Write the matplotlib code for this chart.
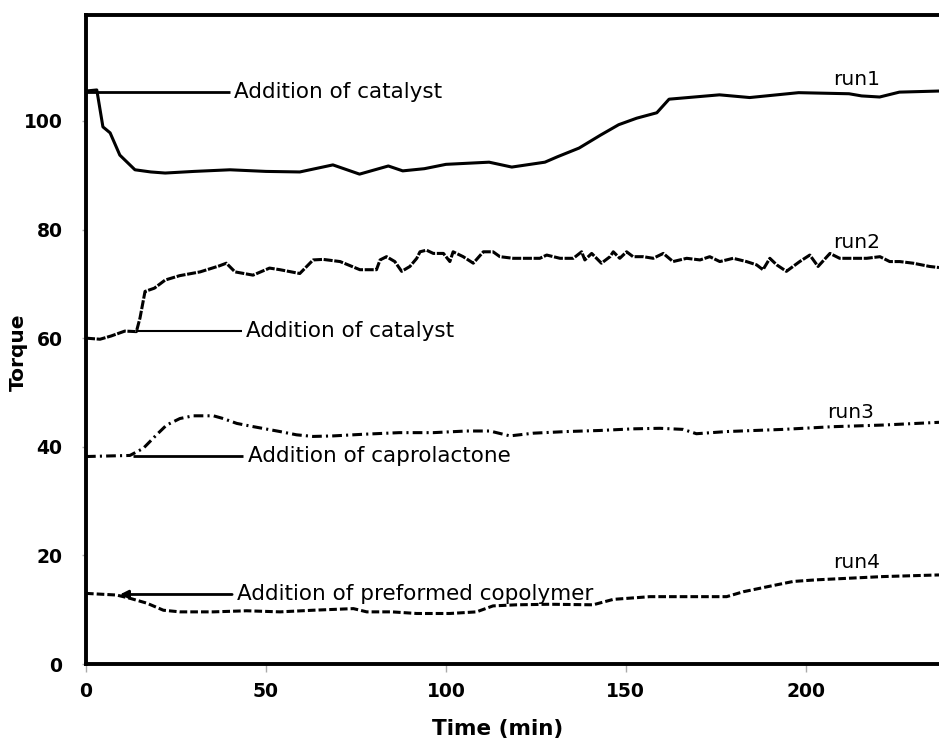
import matplotlib
matplotlib.use("Agg")
import matplotlib.pyplot as plt

plt.rcParams['lines.scale_dashes'] = False
plt.rcParams['font.family'] = ['DejaVu Sans']

# ---- data ----
run1 = [(0, 105.5), (3, 105.7), (4.7, 98.9), (6.7, 97.8), (9.4, 93.7), (13.6, 91.0),
        (18, 90.6), (22, 90.4), (30, 90.7), (40, 91.0), (50, 90.7), (59.4, 90.6),
        (68.6, 91.9), (76, 90.2), (84, 91.7), (88, 90.8), (94, 91.2), (100, 92.0),
        (112, 92.4), (118.3, 91.5), (127.5, 92.4), (131, 93.4), (137, 95.0), (143, 97.4),
        (148, 99.3), (153, 100.5), (158.6, 101.5), (162, 104.0), (176, 104.8),
        (184.4, 104.3), (198, 105.2), (212, 105.0), (215.5, 104.6), (220.5, 104.4),
        (226, 105.3), (237, 105.5)]

run2 = [(0, 60.0), (3.9, 59.8), (7, 60.4), (10.8, 61.3), (14, 61.2), (15, 63.7),
        (16.4, 68.6), (19, 69.2), (22, 70.7), (26, 71.5), (31.7, 72.2), (37, 73.3),
        (39, 73.8), (41.4, 72.2), (46.4, 71.6), (51, 72.9), (53.9, 72.6), (59.4, 71.9),
        (63.1, 74.4), (65.9, 74.5), (70.6, 74.1), (76.1, 72.6), (80.7, 72.6), (81.7, 74.4),
        (83.5, 75.0), (85.8, 74.1), (87.7, 72.3), (90, 73.2), (91.9, 74.7), (92.8, 75.9),
        (94.6, 76.2), (96.5, 75.6), (99.3, 75.6), (101.1, 74.1), (102, 75.9), (104.8, 75.0),
        (107.6, 73.8), (110.4, 75.9), (113.1, 75.9), (115, 75.0), (118.7, 74.7),
        (122.4, 74.7), (126.1, 74.7), (128, 75.3), (131.7, 74.7), (135.4, 74.7),
        (137.7, 75.9), (138.6, 74.4), (140.5, 75.6), (143.2, 73.8), (145.6, 75.0),
        (146.5, 75.9), (148.3, 74.7), (150.2, 75.9), (152, 75.0), (154.8, 75.0),
        (157.6, 74.7), (160.4, 75.6), (163.1, 74.1), (166.9, 74.7), (170.6, 74.4),
        (173.3, 75.0), (176.1, 74.1), (179.8, 74.7), (183.5, 74.1), (186.3, 73.5),
        (188.1, 72.6), (190, 74.7), (191.9, 73.5), (194.6, 72.3), (198.3, 74.1),
        (201.1, 75.3), (203.4, 73.2), (206.7, 75.6), (209.4, 74.7), (213.1, 74.7),
        (216.9, 74.7), (220.6, 75.0), (223.3, 74.1), (226.1, 74.1), (229.8, 73.8),
        (234.4, 73.2), (237, 73.0)]

run3 = [(0, 38.2), (6, 38.3), (12.2, 38.4), (15.9, 39.7), (19.6, 42.2), (22.4, 44.0),
        (26.1, 45.2), (29.8, 45.7), (35.4, 45.7), (38.1, 45.2), (41.9, 44.3), (46.5, 43.7),
        (53.9, 42.8), (58.5, 42.2), (63.1, 41.9), (68.7, 42.0), (77, 42.3), (87, 42.6),
        (96.5, 42.6), (105.7, 42.9), (112.2, 42.9), (117.8, 42.0), (124.3, 42.5),
        (133.5, 42.8), (142.8, 43.0), (152, 43.3), (159.4, 43.4), (165.9, 43.2),
        (169.6, 42.4), (178, 42.8), (193.7, 43.2), (207.6, 43.7), (221.5, 44.0), (237, 44.5)]

run4 = [(0, 13.0), (8.5, 12.7), (12.2, 12.1), (16.9, 11.2), (21.5, 9.9), (26.1, 9.6),
        (35.4, 9.6), (44.6, 9.8), (53.9, 9.6), (63.1, 9.9), (70.6, 10.1), (74.3, 10.2),
        (78, 9.6), (85, 9.6), (91.9, 9.3), (101.1, 9.3), (108.5, 9.6), (113.1, 10.7),
        (119.6, 10.9), (128.9, 11.0), (140.9, 10.9), (146.5, 11.9), (156.7, 12.4),
        (170.6, 12.4), (178, 12.4), (182.6, 13.3), (189.1, 14.2), (196.5, 15.2),
        (203, 15.5), (212.2, 15.8), (221.5, 16.1), (237, 16.4)]

run_labels = ["run1", "run2", "run3", "run4"]
run_label_pos = [(214, 107.6), (214, 77.7), (212.5, 46.3), (214, 18.6)]

annot_texts = ["Addition of catalyst", "Addition of catalyst",
               "Addition of caprolactone", "Addition of preformed copolymer"]
annot_line_x = [(0, 40), (14, 43.3), (13, 43.6), (9.4, 40.6)]
annot_y = [105.3, 61.3, 38.3, 12.8]
annot_text_x = [41.1, 44.4, 45.0, 41.9]

xticks = [0, 50, 100, 150, 200]
yticks = [0, 20, 40, 60, 80, 100]

# ---- figure ----
fig = plt.figure(figsize=(9.39, 7.42), dpi=100)
ax = fig.add_axes([86/939, 78/742, 853/939, 649/742])
ax.set_xlim(0, 237)
ax.set_ylim(0, 119.5)

def xy(run):
    return [p[0] for p in run], [p[1] for p in run]

lw = 2.2
t, y = xy(run1)
ax.plot(t, y, color='black', lw=lw, solid_capstyle='round')
t, y = xy(run2)
ax.plot(t, y, color='black', lw=lw, dashes=(6.5, 1.2))
t, y = xy(run3)
ax.plot(t, y, color='black', lw=lw, dashes=(7, 3, 1.5, 3))
t, y = xy(run4)
ax.plot(t, y, color='black', lw=lw, dashes=(5.5, 2.2))

for lab, (px, py) in zip(run_labels, run_label_pos):
    ax.text(px, py, lab, fontsize=14.5, ha='center', va='center')

for i, (txt, (x0, x1), yy, tx) in enumerate(zip(annot_texts, annot_line_x, annot_y, annot_text_x)):
    if i == 3:
        ax.annotate("", xy=(x0, yy), xytext=(x1, yy),
                    arrowprops=dict(arrowstyle='-|>', color='black', lw=2.0,
                                    mutation_scale=12, shrinkA=0, shrinkB=0))
    else:
        ax.plot([x0, x1], [yy, yy], color='black', lw=2.0 if i != 1 else 1.5,
                solid_capstyle='butt')
    ax.text(tx, yy, txt, fontsize=15.5, ha='left', va='center')

# spines
for s in ['left', 'top', 'bottom']:
    ax.spines[s].set_linewidth(2.8)
    ax.spines[s].set_color('black')
ax.spines['right'].set_visible(False)

ax.set_xticks(xticks)
ax.set_yticks(yticks)
ax.tick_params(axis='y', direction='out', length=3, width=1, color='#aaaaaa', pad=14,
               labelsize=13.5)
ax.tick_params(axis='x', direction='out', length=6, width=1, color='#aaaaaa', pad=7,
               labelsize=13.5)
for lab in ax.get_xticklabels() + ax.get_yticklabels():
    lab.set_fontweight('bold')

ax.set_xlabel("Time (min)", fontsize=15.5, fontweight='bold')
ax.xaxis.set_label_coords(0.483, -0.085)
ax.set_ylabel("Torque", fontsize=14.5, fontweight='bold')
ax.yaxis.set_label_coords(-0.068, 0.481)

fig.savefig("out.png", dpi=100)
